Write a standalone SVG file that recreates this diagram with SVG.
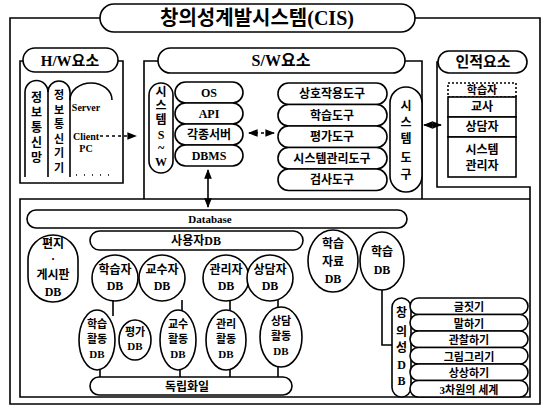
<svg xmlns="http://www.w3.org/2000/svg" width="547" height="409" viewBox="0 0 547 409">
<defs>
<style>
.s{fill:none;stroke:#000;stroke-width:1.6}
.n{fill:#fff;stroke:#000;stroke-width:1.6}
.t{font-family:"Liberation Serif","Noto Sans CJK KR",serif;font-weight:bold;font-size:12px;text-anchor:middle;fill:#000}
.k{font-family:"Liberation Serif","Noto Sans CJK KR",serif;font-weight:bold;font-size:12px;text-anchor:middle;fill:#000}
.a{font-size:11px}
.v{font-size:11px}
</style>
<marker id="ah" viewBox="0 0 10 10" refX="9" refY="5" markerWidth="6" markerHeight="6" orient="auto-start-reverse"><path d="M0,1 L10,5 L0,9 Z" fill="#000"/></marker>
</defs>
<rect width="547" height="409" fill="#fff"/>
<g id="frames">
<path class="s" d="M100,18 H10 V404 H540 V18 H415" stroke-width="2"/>
<path class="s" d="M23,61 H20 V183 H123 V61 H118"/>
<path class="s" d="M158,61 H144 V199 M405,61 H422 V199"/>
<path class="s" d="M438,62 H437 V187 H530 V397 H20 V199 H530"/>
</g>
<g id="title"><rect class="n" x="100" y="4" width="315" height="28" rx="14"/><text class="k" x="257" y="25" style="font-size:20px">창의성계발시스템(CIS)</text></g>
<g id="hw"><rect class="n" x="23" y="48" width="95" height="24" rx="12"/><text class="t" x="70" y="66" style="font-size:15px">H/W요소</text></g>
<g id="hw-net"><path class="s" d="M25,177 V92 A11.5,11.5 0 0 1 48,92 V177"/>
<text class="k" x="36.5" y="102">정</text><text class="k" x="36.5" y="117">보</text><text class="k" x="36.5" y="132">통</text><text class="k" x="36.5" y="147">신</text><text class="k" x="36.5" y="162">망</text></g>
<g id="hw-dev"><path class="s" d="M48,92 A11,11 0 0 1 70,92 V177"/>
<text class="k v" x="59" y="99">정</text><text class="k v" x="59" y="113.5">보</text><text class="k v" x="59" y="128">통</text><text class="k v" x="59" y="142.5">신</text><text class="k v" x="59" y="157">기</text><text class="k v" x="59" y="171.5">기</text></g>
<g id="hw-server"><path class="s" d="M70,100 A21,17 0 0 1 112,100"/><path class="s" d="M76,175 H110" stroke-dasharray="1 7"/>
<text class="t" x="86" y="111" style="font-size:10px">Server</text><text class="t" x="86" y="140" style="font-size:10px">Client</text><text class="t" x="86" y="152" style="font-size:10px">PC</text></g>
<g id="sw"><rect class="n" x="158" y="48" width="247" height="25" rx="12.5"/><text class="t" x="281" y="66" style="font-size:16px">S/W요소</text></g>
<g id="sys-sw"><rect class="n" x="149" y="83" width="24" height="90" rx="12"/>
<text class="t" x="161" y="96">시</text><text class="t" x="161" y="110">스</text><text class="t" x="161" y="124">템</text><text class="t" x="161" y="139">S</text><text class="t" x="161" y="152">~</text><text class="t" x="161" y="166">W</text></g>
<g id="os"><rect class="n" x="175" y="82" width="68" height="21" rx="10.5"/><text class="t" x="209" y="97">OS</text></g>
<g id="api"><rect class="n" x="175" y="103" width="68" height="21" rx="10.5"/><text class="t" x="209" y="118">API</text></g>
<g id="servers"><rect class="n" x="175" y="124" width="68" height="21" rx="10.5"/><text class="k" x="209" y="139">각종서버</text></g>
<g id="dbms"><rect class="n" x="175" y="145" width="68" height="21" rx="10.5"/><text class="t" x="209" y="160">DBMS</text></g>
<g id="tool1"><rect class="n" x="278" y="83" width="109" height="21.5" rx="10.5"/><text class="k" x="332" y="98">상호작용도구</text></g>
<g id="tool2"><rect class="n" x="278" y="104.5" width="109" height="21.5" rx="10.5"/><text class="k" x="332" y="119.5">학습도구</text></g>
<g id="tool3"><rect class="n" x="278" y="126" width="109" height="21.5" rx="10.5"/><text class="k" x="332" y="141">평가도구</text></g>
<g id="tool4"><rect class="n" x="278" y="147.5" width="109" height="21.5" rx="10.5"/><text class="k" x="332" y="162.5">시스템관리도구</text></g>
<g id="tool5"><rect class="n" x="278" y="169" width="109" height="21.5" rx="10.5"/><text class="k" x="332" y="184">검사도구</text></g>
<g id="sys-tool"><rect class="n" x="390" y="87" width="32" height="105" rx="16"/>
<text class="k" x="406" y="110">시</text><text class="k" x="406" y="127">스</text><text class="k" x="406" y="143">템</text><text class="k" x="406" y="162">도</text><text class="k" x="406" y="179">구</text></g>
<g id="human"><rect class="n" x="438" y="51" width="89" height="22" rx="11"/><text class="k" x="483" y="67" style="font-size:15px">인적요소</text></g>
<g id="h-learner"><rect class="n" x="448" y="83" width="68" height="14" stroke-dasharray="2 2"/><text class="k" x="482" y="94" style="font-size:11px">학습자</text></g>
<g id="h-teacher"><rect class="n" x="448" y="97" width="68" height="20"/><text class="k" x="482" y="111">교사</text></g>
<g id="h-counsel"><rect class="n" x="448" y="117" width="68" height="20"/><text class="k" x="482" y="131">상담자</text></g>
<g id="h-admin"><rect class="n" x="448" y="137" width="68" height="40"/><text class="k" x="482" y="154">시스템</text><text class="k" x="482" y="170">관리자</text></g>
<g id="database"><rect class="n" x="27" y="210" width="380" height="18" rx="9"/><text class="t" x="210" y="223" style="font-size:11px">Database</text></g>
<g id="userdb"><rect class="n" x="90" y="231" width="213" height="19" rx="9.5"/><text class="k" x="196" y="245">사용자DB</text></g>
<g id="board"><rect class="n" x="28" y="235" width="50" height="67" rx="25"/><text class="k" x="53" y="248">편지</text><text class="k" x="53" y="263">·</text><text class="k" x="53" y="279">게시판</text><text class="t" x="53" y="296">DB</text></g>
<g id="learnerdb"><circle class="n" cx="115" cy="278" r="23"/><text class="k" x="115" y="274">학습자</text><text class="t" x="115" y="290">DB</text></g>
<g id="profdb"><circle class="n" cx="162" cy="278" r="23"/><text class="k" x="162" y="274">교수자</text><text class="t" x="162" y="290">DB</text></g>
<g id="admindb"><circle class="n" cx="226" cy="278" r="23"/><text class="k" x="226" y="274">관리자</text><text class="t" x="226" y="290">DB</text></g>
<g id="counseldb"><circle class="n" cx="270" cy="278" r="23"/><text class="k" x="270" y="274">상담자</text><text class="t" x="270" y="290">DB</text></g>
<g id="materialdb"><ellipse class="n" cx="333" cy="261" rx="25" ry="31"/><text class="k" x="333" y="248">학습</text><text class="k" x="333" y="266">자료</text><text class="t" x="333" y="283">DB</text></g>
<g id="learndb"><ellipse class="n" cx="382" cy="261" rx="22" ry="29"/><text class="k" x="382" y="256">학습</text><text class="t" x="382" y="274">DB</text></g>
<g id="connectors">
<path class="s" d="M100,136 H136" stroke-dasharray="3 3" marker-end="url(#ah)"/>
<path class="s" d="M249,133 H274" stroke-dasharray="3 3" marker-start="url(#ah)" marker-end="url(#ah)"/>
<path class="s" d="M208,170 V207" marker-start="url(#ah)" marker-end="url(#ah)"/>
<path class="s" d="M424,125 H441" marker-start="url(#ah)" marker-end="url(#ah)"/>
<path class="s" d="M382,290 V345 H392"/>
<path class="s" d="M113,300 V316 M182,300 V313 M230,300 V312 M278,300 V308"/>
<path class="s" d="M100,368 V378 M180,368 V378 M230,368 V378 M278,366 V378"/>
</g>
<g id="learnact"><ellipse class="n" cx="97" cy="340" rx="18" ry="30"/><text class="k a" x="97" y="328">학습</text><text class="k a" x="97" y="343">활동</text><text class="t a" x="97" y="358">DB</text></g>
<g id="evaldb"><ellipse class="n" cx="135" cy="340" rx="16" ry="20"/><text class="k a" x="135" y="336">평가</text><text class="t a" x="135" y="350">DB</text></g>
<g id="profact"><ellipse class="n" cx="178" cy="340" rx="18" ry="30"/><text class="k a" x="178" y="328">교수</text><text class="k a" x="178" y="343">활동</text><text class="t a" x="178" y="358">DB</text></g>
<g id="adminact"><ellipse class="n" cx="226" cy="340" rx="20" ry="30"/><text class="k a" x="226" y="328">관리</text><text class="k a" x="226" y="343">활동</text><text class="t a" x="226" y="358">DB</text></g>
<g id="counselact"><ellipse class="n" cx="281" cy="337" rx="21" ry="30"/><text class="k a" x="281" y="325">상담</text><text class="k a" x="281" y="340">활동</text><text class="t a" x="281" y="355">DB</text></g>
<g id="indep"><rect class="n" x="90" y="377" width="202" height="18" rx="9"/><text class="k" x="187" y="391">독립화일</text></g>
<g id="creative"><rect class="n" x="392" y="298" width="19" height="99" rx="9.5"/>
<text class="k" x="401.5" y="317">창</text><text class="k" x="401.5" y="336">의</text><text class="k" x="401.5" y="352">성</text><text class="t" x="401.5" y="369">D</text><text class="t" x="401.5" y="385">B</text></g>
<g id="c1"><rect class="n" x="410" y="298" width="118" height="16.5" rx="8.25"/><text class="k" x="469" y="311" style="font-size:11px">글짓기</text></g>
<g id="c2"><rect class="n" x="410" y="314.5" width="118" height="16.5" rx="8.25"/><text class="k" x="469" y="327.5" style="font-size:11px">말하기</text></g>
<g id="c3"><rect class="n" x="410" y="331" width="118" height="16.5" rx="8.25"/><text class="k" x="469" y="344" style="font-size:11px">관찰하기</text></g>
<g id="c4"><rect class="n" x="410" y="347.5" width="118" height="16.5" rx="8.25"/><text class="k" x="469" y="360.5" style="font-size:11px">그림그리기</text></g>
<g id="c5"><rect class="n" x="410" y="364" width="118" height="16.5" rx="8.25"/><text class="k" x="469" y="377" style="font-size:11px">상상하기</text></g>
<g id="c6"><rect class="n" x="410" y="380.5" width="118" height="16.5" rx="8.25"/><text class="k" x="469" y="393.5" style="font-size:11px">3차원의 세계</text></g>
</svg>
